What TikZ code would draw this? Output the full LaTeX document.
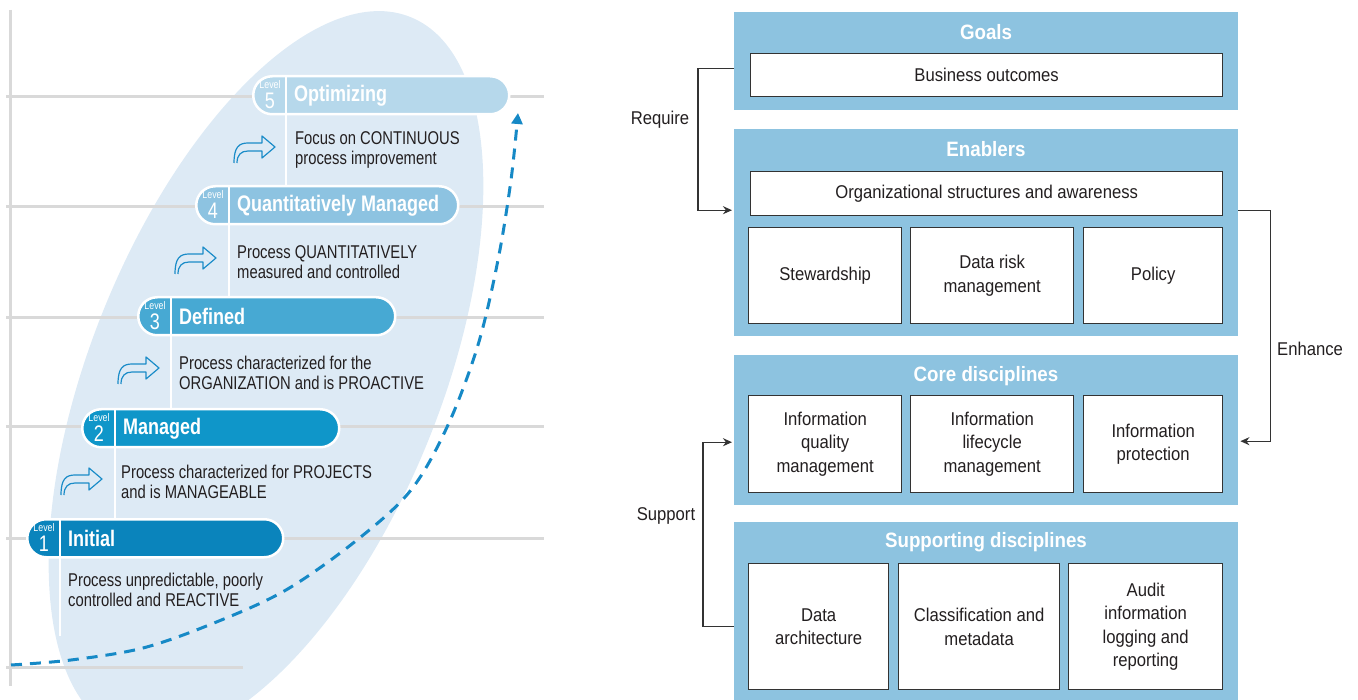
\documentclass[tikz,border=0pt]{standalone}
\usepackage{fontspec}
\setmainfont{Liberation Sans}
\newfontfamily\lfont[FakeStretch=0.8]{Liberation Sans}
\newfontfamily\rfont[FakeStretch=0.9]{Liberation Sans}
\usetikzlibrary{arrows.meta,calc}
\definecolor{txt}{HTML}{231F20}
\definecolor{panelc}{HTML}{8DC3E0}
\definecolor{boxline}{HTML}{333333}
\definecolor{ellc}{HTML}{DDEAF5}
\definecolor{gridc}{HTML}{D9D9D9}
\definecolor{cA}{HTML}{0A84BC}
\definecolor{cB}{HTML}{0F96C9}
\definecolor{cC}{HTML}{47A9D3}
\definecolor{cD}{HTML}{8DC3E1}
\definecolor{cE}{HTML}{B6D8EB}
\definecolor{dashc}{HTML}{1689C6}
\definecolor{iconc}{HTML}{1A8CC8}
\tikzset{
  panel/.style={fill=panelc, draw=none, minimum width=504pt, anchor=north west, inner sep=0pt},
  ibox/.style={draw=boxline, line width=1.3pt, fill=white, align=center, inner sep=0pt, anchor=north west, text=txt, font=\rfont\fontsize{18.5}{23.5}\selectfont},
  ttl/.style={text=white, font=\rfont\bfseries\fontsize{20.8}{24}\selectfont, inner sep=0pt},
  lbl/.style={text=txt, font=\rfont\fontsize{18.5}{22}\selectfont, inner sep=0pt},
  conn/.style={draw=boxline, line width=1.3pt, -{Stealth[length=9pt,width=8pt]}},
  grid/.style={draw=gridc, line width=3pt},
  pill/.style={draw=white, line width=2.5pt, rounded corners=19pt, minimum height=38pt, anchor=north west, inner sep=0pt},
  sepline/.style={draw=white, line width=2.5pt},
  badgesm/.style={text=white, font=\lfont\fontsize{11}{11}\selectfont, inner sep=0pt},
  badgebig/.style={text=white, font=\lfont\fontsize{22.5}{22}\selectfont, inner sep=0pt},
  head/.style={text=white, font=\lfont\bfseries\fontsize{22.5}{24}\selectfont, anchor=west, inner sep=0pt},
  desc/.style={text=txt, font=\lfont\fontsize{18.5}{20}\selectfont, align=left, anchor=west, inner sep=0pt},
  curvarrow/.pic={\draw[iconc, line width=1.2pt, line join=round]
     (0,27) .. controls (0,11) and (5,7) .. (14,7) -- (28,7) -- (28,0) -- (41,11) -- (28,22) -- (28,15) -- (14,15) .. controls (7,15) and (3,19) .. (3,27);}
}
\begin{document}
\begin{tikzpicture}[x=1pt,y=-1pt]
\useasboundingbox (0,0) rectangle (1358,700);
% ---------------- left: maturity levels ----------------
\fill[ellc] (266,375) circle[x radius=386pt, y radius=175pt, rotate=68];
\draw[grid] (10,10) -- (10,686);
\foreach \yy in {97,207,318,427,538} \draw[grid] (6,\yy) -- (544,\yy);
\draw[grid] (6,667) -- (243,667);
% pills
\node[pill, fill=cE, minimum width=256pt] (p5) at (252,75) {};
\node[pill, fill=cD, minimum width=262pt] (p4) at (195,185) {};
\node[pill, fill=cC, minimum width=257pt] (p3) at (137,296) {};
\node[pill, fill=cB, minimum width=257pt] (p2) at (81,408) {};
\node[pill, fill=cA, minimum width=256pt] (p1) at (26,518) {};
\foreach \p in {p1,p2,p3,p4,p5}{
  \coordinate (\p t) at ($(\p.north west)+(34,0)$);
  \coordinate (\p b) at ($(\p.south west)+(34,0)$);
  \draw[sepline] (\p t) -- (\p b);
}
\coordinate (p1end) at ($(p1b)+(0,77)$);
\draw[sepline, line width=2pt] (p5b) -- (p5b |- p4.north);
\draw[sepline, line width=2pt] (p4b) -- (p4b |- p3.north);
\draw[sepline, line width=2pt] (p3b) -- (p3b |- p2.north);
\draw[sepline, line width=2pt] (p2b) -- (p2b |- p1.north);
\draw[sepline, line width=2pt] (p1b) -- (p1end);
% badges
\foreach \p/\n in {p1/1,p2/2,p3/3,p4/4,p5/5}{
  \node[badgesm] (\p lv) at ($(\p.north west)+(18,10)$) {Level};
  \node[badgebig] (\p n) at ($(\p.north west)+(18,25.5)$) {\n};
}
\node[head] (h5) at ($(p5.west)+(42,0)$) {Optimizing};
\node[head] (h4) at ($(p4.west)+(42,0)$) {Quantitatively Managed};
\node[head] (h3) at ($(p3.west)+(42,0)$) {Defined};
\node[head] (h2) at ($(p2.west)+(42,0)$) {Managed};
\node[head] (h1) at ($(p1.west)+(42,0)$) {Initial};
% descriptions
\node[desc] (d5) at ($(p5b)+(9,34)$) {Focus on CONTINUOUS\\process improvement};
\node[desc] (d4) at ($(p4b)+(8,37)$) {Process QUANTITATIVELY\\measured and controlled};
\node[desc] (d3) at ($(p3b)+(8,36)$) {Process characterized for the\\ORGANIZATION and is PROACTIVE};
\node[desc] (d2) at ($(p2b)+(6,33.5)$) {Process characterized for PROJECTS\\and is MANAGEABLE};
\node[desc] (d1) at ($(p1b)+(8,31)$) {Process unpredictable, poorly\\controlled and REACTIVE};
% icons
\pic at (234,136) {curvarrow};
\pic at (175,247) {curvarrow};
\pic at (118,357) {curvarrow};
\pic at (61,468) {curvarrow};
% dashed growth curve
\draw[dashc, line width=3pt, dash pattern=on 11pt off 8pt, -{Triangle[length=11pt,width=11pt]}]
  plot[smooth, tension=0.55] coordinates {(11,665) (71,660) (143,648) (214,623) (286,590) (357,540) (411,490) (448,425) (478,345) (498,260) (511,180) (518,113)};
% ---------------- right: framework ----------------
\node[panel, minimum height=98pt] (goals) at (734,12) {};
\node[panel, minimum height=207pt] (enab) at (734,129) {};
\node[panel, minimum height=150pt] (core) at (734,355) {};
\node[panel, minimum height=180pt] (supp) at (734,522) {};
\node[ttl] (tg) at (986,32) {Goals};
\node[ttl] (te) at (986,149) {Enablers};
\node[ttl] (tc) at (986,376) {Core disciplines};
\node[ttl] (ts) at (986,542) {Supporting disciplines};
\node[ibox, minimum width=472pt, minimum height=43pt] (bo) at (750,53) {Business outcomes};
\node[ibox, minimum width=472pt, minimum height=44pt] (org) at (750,171) {Organizational structures and awareness};
\node[ibox, minimum width=153pt, minimum height=96pt] (stew) at (748,227) {Stewardship};
\node[ibox, minimum width=163pt, minimum height=96pt] (risk) at (910,227) {Data risk\\management};
\node[ibox, minimum width=139pt, minimum height=96pt] (pol) at (1083,227) {Policy};
\node[ibox, minimum width=153pt, minimum height=97pt] (iqm) at (748,395) {Information\\quality\\management};
\node[ibox, minimum width=163pt, minimum height=97pt] (ilm) at (910,395) {Information\\lifecycle\\management};
\node[ibox, minimum width=139pt, minimum height=97pt] (ip) at (1083,395) {Information\\protection};
\node[ibox, minimum width=140pt, minimum height=126pt] (da) at (748,563) {Data\\architecture};
\node[ibox, minimum width=161pt, minimum height=126pt] (cm) at (898,563) {Classification and\\metadata};
\node[ibox, minimum width=154pt, minimum height=126pt] (au) at (1068,563) {Audit\\information\\logging and\\reporting};
% connectors
\draw[conn] ([yshift=-7pt]goals.west) -- ++(-36,0) |- ([xshift=-2pt,yshift=22.5pt]enab.west);
\draw[conn] ([yshift=22.5pt]enab.east) -- ++(32,0) |- ([xshift=2pt,yshift=-11pt]core.east);
\draw[conn] ([yshift=-14pt]supp.west) -- ++(-31,0) |- ([xshift=-2pt,yshift=-12pt]core.west);
\node[lbl] (lreq) at (660,120) {Require};
\node[lbl] (lenh) at (1310,349) {Enhance};
\node[lbl] (lsup) at (666,516) {Support};
\end{tikzpicture}
\end{document}
